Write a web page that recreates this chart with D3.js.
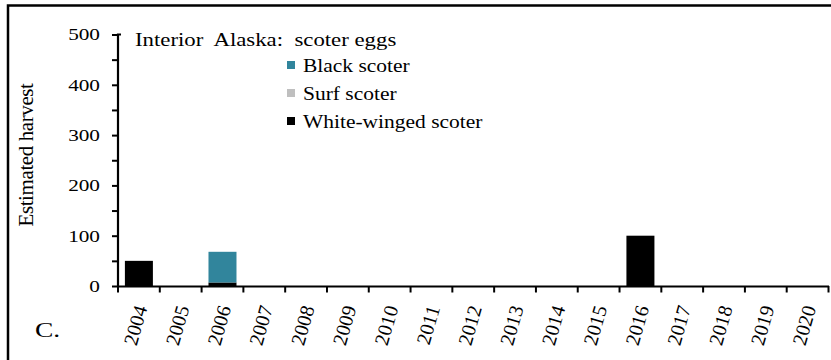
<!DOCTYPE html>
<html><head><meta charset="utf-8">
<script src="https://cdn.jsdelivr.net/npm/d3@7"></script>
<style>body{margin:0;background:#fff}svg{display:block}text{font-family:"Liberation Serif","Times New Roman",serif;fill:#000}</style>
</head><body><svg id="c" width="831" height="360"></svg>
<script>
const years = ["2004","2005","2006","2007","2008","2009","2010","2011","2012","2013","2014","2015","2016","2017","2018","2019","2020"];
const whiteWinged = [50,0,7,0,0,0,0,0,0,0,0,0,100,0,0,0,0];
const surf        = [0,0,0,0,0,0,0,0,0,0,0,0,0,0,0,0,0];
const black       = [0,0,61,0,0,0,0,0,0,0,0,0,0,0,0,0,0];
const seriesNames = ["White-winged scoter","Surf scoter","Black scoter"];
const seriesColors = ["#000000","#BFBFBF","#31859C"];
const yTicks = [0,100,200,300,400,500];
const title = "Interior  Alaska:  scoter eggs";

const svg = d3.select("#c");
svg.append("path").attr("d","M8,362V5.5H833").attr("fill","none").attr("stroke","#000").attr("stroke-width",2.5);

const x = d3.scaleBand().domain(years).range([118,828.5]).paddingInner(0.33).paddingOuter(0.165);
const y = d3.scaleLinear().domain([0,500]).range([286,34.5]);

const rows = years.map((yr,i)=>({year:yr,"White-winged scoter":whiteWinged[i],"Surf scoter":surf[i],"Black scoter":black[i]}));
const stack = d3.stack().keys(seriesNames)(rows);
stack.forEach((s,k)=>{
  svg.append("g").selectAll("rect").data(s).join("rect")
    .attr("x",d=>x(d.data.year)).attr("width",x.bandwidth())
    .attr("y",d=>y(d[1])).attr("height",d=>y(d[0])-y(d[1]))
    .attr("fill",seriesColors[k]);
});

// y axis
const ya = svg.append("g").attr("transform","translate(118,0)")
  .call(d3.axisLeft(y).tickValues(d3.range(0,501,50)).tickSize(6).tickFormat(""));
ya.select(".domain").attr("stroke-width",2.2).attr("d","M0,"+y(0)+"V"+y(500)+"H3");
ya.selectAll(".tick line").attr("stroke-width",2);
svg.append("g").selectAll("text").data(yTicks).join("text")
  .attr("transform",d=>`translate(100,${y(d)}) scale(1.25,1)`)
  .attr("text-anchor","end").attr("dy","0.35em").attr("font-size",17).attr("fill","#222").text(d=>d);

// x axis
const xa = svg.append("g").attr("transform","translate(0,286)")
  .call(d3.axisBottom(x).tickSize(0).tickFormat(""));
xa.select(".domain").attr("stroke-width",2.2);
const edges = years.map(yy=>x(yy)-x.step()*x.paddingInner()/2).concat([828.5]);
svg.append("g").selectAll("line").data(edges).join("line")
  .attr("x1",d=>d).attr("x2",d=>d).attr("y1",286).attr("y2",292.5)
  .attr("stroke","#000").attr("stroke-width",2);
svg.append("g").selectAll("text").data(years).join("text")
  .attr("transform",d=>`translate(${x(d)+x.bandwidth()/2+2},306) rotate(-74)`)
  .attr("text-anchor","end").attr("dy","0.35em").attr("font-size",20).attr("fill","#222").text(d=>d);

// y label
svg.append("text").attr("transform","translate(26,155) rotate(-90)").attr("text-anchor","middle")
  .attr("dy","0.35em").attr("font-size",21).attr("letter-spacing","-0.4").attr("fill","#222").text("Estimated harvest");

svg.append("text").attr("transform","translate(135,46) scale(1.2,1)").attr("font-size",19)
  .style("white-space","pre").text(title);
svg.append("text").attr("transform","translate(35,337) scale(1.25,1)").attr("font-size",22).text("C.");

// legend
const legNames = ["Black scoter","Surf scoter","White-winged scoter"];
const legColors = ["#31859C","#BFBFBF","#000000"];
const legY = [65,93,121];
legNames.forEach((n,i)=>{
  svg.append("rect").attr("x",287).attr("y",legY[i]-4).attr("width",8).attr("height",8).attr("fill",legColors[i]);
  svg.append("text").attr("transform",`translate(303,${legY[i]}) scale(1.13,1)`).attr("dy","0.35em").attr("font-size",19).text(n);
});
</script></body></html>
